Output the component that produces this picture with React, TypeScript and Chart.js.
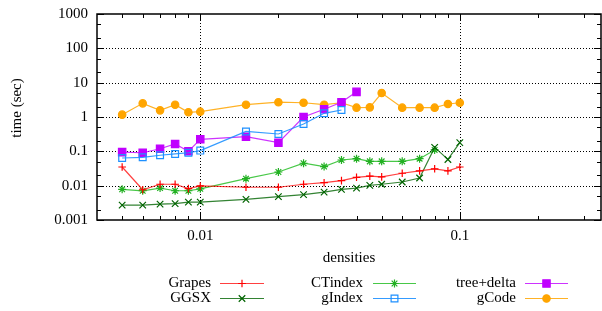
import React, { useEffect, useRef } from 'react';
import { Chart, registerables } from 'chart.js';

Chart.register(...registerables);

// ---- data ----
const densities = [0.005, 0.006, 0.007, 0.008, 0.009, 0.01, 0.015, 0.02, 0.025, 0.03, 0.035, 0.04, 0.045, 0.05, 0.06, 0.07, 0.08, 0.09, 0.1];
const grapes = [0.035, 0.0076, 0.011, 0.011, 0.0082, 0.0098, 0.009, 0.009, 0.011, 0.0122, 0.014, 0.0175, 0.019, 0.018, 0.023, 0.027, 0.031, 0.027, 0.035];
const ggsx = [0.0027, 0.0027, 0.0029, 0.003, 0.0033, 0.0033, 0.004, 0.0048, 0.0055, 0.0065, 0.0078, 0.0085, 0.0102, 0.011, 0.0128, 0.0167, 0.13, 0.058, 0.179];
const ctindex = [0.0078, 0.0071, 0.0085, 0.0071, 0.0071, 0.0081, 0.016, 0.025, 0.045, 0.036, 0.056, 0.061, 0.051, 0.051, 0.051, 0.061, 0.11];
const gindex = [0.064, 0.067, 0.077, 0.084, 0.091, 0.105, 0.38, 0.32, 0.625, 1.28, 1.6];
const treeDelta = [0.095, 0.091, 0.119, 0.164, 0.1, 0.224, 0.267, 0.179, 1.0, 1.68, 2.7, 5.4];
const gcode = [1.17, 2.5, 1.56, 2.28, 1.37, 1.43, 2.28, 2.7, 2.6, 2.28, 2.6, 1.87, 1.91, 5.0, 1.87, 1.87, 1.87, 2.39, 2.6];

const seriesNames = ['Grapes', 'GGSX', 'CTindex', 'gIndex', 'tree+delta', 'gCode'];
const seriesValues = [grapes, ggsx, ctindex, gindex, treeDelta, gcode];

const yTickValues = [0.001, 0.01, 0.1, 1, 10, 100, 1000];
const yTickLabels = ['0.001', '0.01', '0.1', '1', '10', '100', '1000'];
const xTickValues = [0.01, 0.1];
const xTickLabels = ['0.01', '0.1'];
const xTitle = 'densities';
const yTitle = 'time (sec)';

// ---- styles ----
const FONT = "'Liberation Serif', 'Times New Roman', serif";
type Mk = { style: string; r: number; fill: boolean; color: string; line: string; lw: number };
const marks: Mk[] = [
  { style: 'cross', r: 3.8, fill: false, color: '#ff0000', line: 'rgba(255,0,0,0.75)', lw: 1.2 },
  { style: 'crossRot', r: 4.6, fill: false, color: '#006400', line: 'rgba(0,100,0,0.8)', lw: 1.2 },
  { style: 'star', r: 4, fill: false, color: '#22b022', line: 'rgba(40,190,40,0.85)', lw: 1.2 },
  { style: 'rect', r: 4.8, fill: false, color: '#1e90ff', line: 'rgba(30,144,255,0.9)', lw: 1.2 },
  { style: 'rect', r: 5.2, fill: true, color: '#c000ff', line: 'rgba(192,0,255,0.8)', lw: 1.2 },
  { style: 'circle', r: 3.7, fill: true, color: '#ffa500', line: 'rgba(255,165,0,0.85)', lw: 1.2 },
];

function drawMarker(ctx: CanvasRenderingContext2D, m: Mk, x: number, y: number) {
  ctx.save();
  ctx.strokeStyle = m.color;
  ctx.fillStyle = m.color;
  ctx.lineWidth = 1.2;
  ctx.setLineDash([]);
  ctx.beginPath();
  const r = m.r;
  if (m.style === 'cross' || m.style === 'star') {
    ctx.moveTo(x - r, y); ctx.lineTo(x + r, y);
    ctx.moveTo(x, y - r); ctx.lineTo(x, y + r);
  }
  if (m.style === 'crossRot' || m.style === 'star') {
    const d = r * Math.SQRT1_2;
    ctx.moveTo(x - d, y - d); ctx.lineTo(x + d, y + d);
    ctx.moveTo(x - d, y + d); ctx.lineTo(x + d, y - d);
  }
  if (m.style === 'rect') {
    const s = r * Math.SQRT1_2;
    ctx.rect(x - s, y - s, 2 * s, 2 * s);
  }
  if (m.style === 'circle') {
    ctx.arc(x, y, r, 0, Math.PI * 2);
  }
  if (m.fill) ctx.fill();
  ctx.stroke();
  ctx.restore();
}

const framePlugin = {
  id: 'gnuframe',
  beforeDatasetsDraw(chart: any) {
    const { ctx, chartArea: a, scales } = chart;
    const x = scales.x, y = scales.y;
    ctx.save();
    ctx.strokeStyle = '#000';
    ctx.lineWidth = 1;
    ctx.setLineDash([1, 2]);
    for (const v of yTickValues) {
      const py = Math.round(y.getPixelForValue(v)) + 0.5;
      if (py < a.top + 2 || py > a.bottom - 2) continue;
      ctx.beginPath(); ctx.moveTo(a.left, py); ctx.lineTo(a.right, py); ctx.stroke();
    }
    for (const v of xTickValues) {
      const px = Math.round(x.getPixelForValue(v)) + 0.5;
      ctx.beginPath(); ctx.moveTo(px, a.top); ctx.lineTo(px, a.bottom); ctx.stroke();
    }
    ctx.restore();
  },
  afterDraw(chart: any) {
    const { ctx, chartArea: a, scales } = chart;
    const x = scales.x, y = scales.y;
    ctx.save();
    ctx.setLineDash([]);
    ctx.strokeStyle = '#000';
    ctx.lineWidth = 1;
    const major = 7, minor = 4;
    const yMinor: number[] = [];
    for (let e = -3; e < 3; e++) { yMinor.push(2 * Math.pow(10, e), 5 * Math.pow(10, e)); }
    const hTick = (v: number, len: number) => {
      const py = Math.round(y.getPixelForValue(v)) + 0.5;
      ctx.beginPath();
      ctx.moveTo(a.left, py); ctx.lineTo(a.left + len, py);
      ctx.moveTo(a.right, py); ctx.lineTo(a.right - len, py);
      ctx.stroke();
    };
    yTickValues.forEach(v => hTick(v, major));
    yMinor.forEach(v => hTick(v, minor));
    const vTick = (v: number, len: number) => {
      const px = Math.round(x.getPixelForValue(v)) + 0.5;
      if (px <= a.left + 1 || px >= a.right - 1) return;
      ctx.beginPath();
      ctx.moveTo(px, a.bottom); ctx.lineTo(px, a.bottom - len);
      ctx.moveTo(px, a.top); ctx.lineTo(px, a.top + len);
      ctx.stroke();
    };
    xTickValues.forEach(v => vTick(v, major));
    for (let e = -3; e < 0; e++) {
      for (let k = 2; k <= 9; k++) {
        const v = k * Math.pow(10, e);
        if (v > 0.0041 && v < 0.35) vTick(v, minor);
      }
    }
    ctx.lineWidth = 1.5;
    ctx.strokeRect(a.left, a.top, a.right - a.left, a.bottom - a.top);

    ctx.fillStyle = '#000';
    ctx.font = `15px ${FONT}`;
    ctx.textAlign = 'center';
    ctx.textBaseline = 'middle';
    ctx.fillText(xTitle, (a.left + a.right) / 2, 258);
    ctx.save();
    ctx.translate(17, 108);
    ctx.rotate(-Math.PI / 2);
    ctx.fillText(yTitle, 0, 0);
    ctx.restore();

    const cols = [
      { textRight: 211, l1: 220, l2: 264 },
      { textRight: 363, l1: 373, l2: 416 },
      { textRight: 516, l1: 525, l2: 568 },
    ];
    const rows = [283, 298];
    ctx.textAlign = 'right';
    seriesNames.forEach((name, i) => {
      const c = cols[Math.floor(i / 2)];
      const ry = rows[i % 2];
      const m = marks[i];
      ctx.fillStyle = '#000';
      ctx.fillText(name, c.textRight, ry);
      ctx.strokeStyle = m.line;
      ctx.lineWidth = m.lw;
      ctx.beginPath();
      ctx.moveTo(c.l1, ry + 0.5); ctx.lineTo(c.l2, ry + 0.5);
      ctx.stroke();
      drawMarker(ctx, m, (c.l1 + c.l2) / 2, ry + 0.5);
    });
    ctx.restore();
  },
};

export default function App() {
  const ref = useRef<HTMLCanvasElement | null>(null);
  useEffect(() => {
    document.body.style.margin = '0';
    const canvas = ref.current;
    if (!canvas) return;
    const datasets = seriesValues.map((vals, i) => {
      const m = marks[i];
      return {
        label: seriesNames[i],
        data: vals.map((v, j) => ({ x: densities[j], y: v })),
        borderColor: m.line,
        borderWidth: m.lw,
        backgroundColor: m.fill ? m.color : 'rgba(0,0,0,0)',
        pointBorderColor: m.color,
        pointBackgroundColor: m.fill ? m.color : 'rgba(0,0,0,0)',
        pointStyle: m.style,
        pointRadius: m.r,
        pointBorderWidth: 1.2,
        pointHoverRadius: m.r,
        tension: 0,
        fill: false,
      };
    });
    const chart = new Chart(canvas, {
      type: 'line',
      data: { datasets } as any,
      options: {
        responsive: false,
        animation: false,
        events: [],
        layout: { autoPadding: false, padding: { left: 0, right: 1, top: 14, bottom: 0 } },
        plugins: { legend: { display: false }, tooltip: { enabled: false }, title: { display: false } },
        scales: {
          x: {
            type: 'logarithmic',
            min: 0.004,
            max: 0.35,
            position: 'bottom',
            afterBuildTicks: (s: any) => { s.ticks = xTickValues.map(v => ({ value: v })); },
            afterFit: (s: any) => { s.height = 91; s.paddingLeft = 0; s.paddingRight = 0; },
            grid: { display: false, drawTicks: false },
            border: { display: false },
            ticks: {
              autoSkip: false,
              maxRotation: 0,
              padding: 7,
              color: '#000',
              font: { family: FONT, size: 15 },
              callback: (v: any) => {
                const k = xTickValues.findIndex(t => Math.abs(t - Number(v)) < 1e-9);
                return k >= 0 ? xTickLabels[k] : '';
              },
            },
          },
          y: {
            type: 'logarithmic',
            min: 0.001,
            max: 1000,
            afterBuildTicks: (s: any) => { s.ticks = yTickValues.map(v => ({ value: v })); },
            afterFit: (s: any) => { s.width = 97; s.paddingTop = 0; s.paddingBottom = 0; },
            grid: { display: false, drawTicks: false },
            border: { display: false },
            ticks: {
              autoSkip: false,
              padding: 9,
              color: '#000',
              font: { family: FONT, size: 15 },
              callback: (v: any) => {
                const k = yTickValues.findIndex(t => Math.abs(t - Number(v)) / t < 1e-6);
                return k >= 0 ? yTickLabels[k] : '';
              },
            },
          },
        },
      } as any,
      plugins: [framePlugin],
    });
    return () => chart.destroy();
  }, []);
  return (
    <div style={{ width: 602, height: 311 }}>
      <canvas ref={ref} width={602} height={311} style={{ display: 'block', width: 602, height: 311 }} />
    </div>
  );
}
